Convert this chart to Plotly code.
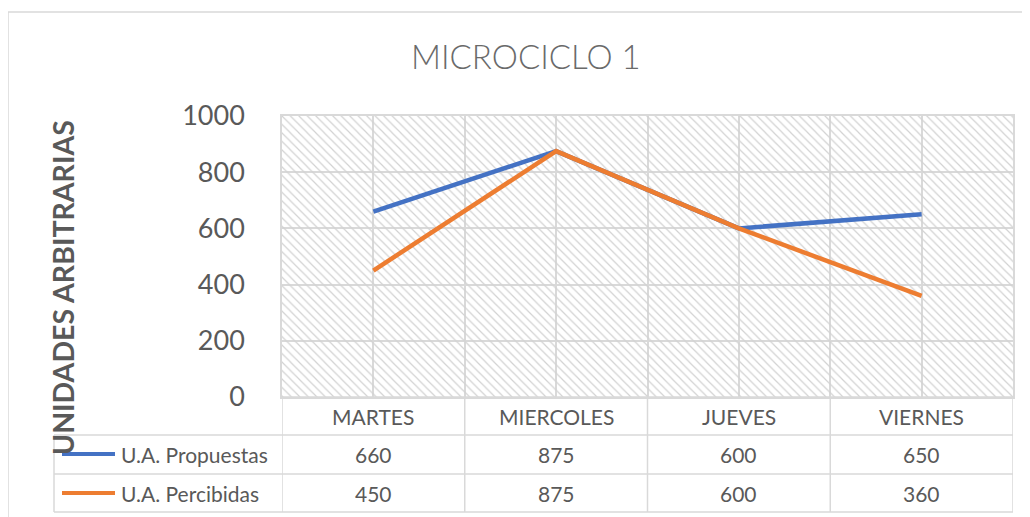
import plotly.graph_objects as go

# ---- data ----
DAYS = ["MARTES", "MIERCOLES", "JUEVES", "VIERNES"]
PROPUESTAS = [660, 875, 600, 650]
PERCIBIDAS = [450, 875, 600, 360]
SERIES_NAMES = ["U.A. Propuestas", "U.A. Percibidas"]
Y_TICKS = [0, 200, 400, 600, 800, 1000]
TITLE = "MICROCICLO 1"
Y_TITLE = "UNIDADES ARBITRARIAS"

COLORS = ["#4472C4", "#ED7D31"]
GRID = "#d9d9d9"
TXT = "#595959"
FONT = "Lato"

# page offset (browser body margin)
OX, OY = 8, 8
W, H = 1030 - OX, 517 - OY
# plot area in screen pixels
PL, PR, PT, PB = 282, 1013, 116, 397
ML, MR, MT, MB = PL - OX, 1030 - PR, PT - OY, 517 - PB
PW = W - ML - MR
PH = H - MT - MB


def px(x):
    return (x - PL) / PW


def py(y):
    return (PB - y) / PH


xs = list(range(len(DAYS)))
fig = go.Figure()

# hatched plot background
fig.add_trace(go.Bar(
    x=xs, y=[Y_TICKS[-1]] * len(DAYS), width=1,
    marker=dict(color="#d2d2d2", line=dict(width=0),
                pattern=dict(shape="\\", size=6, solidity=0.2, fillmode="replace")),
    hoverinfo="skip", showlegend=False,
))

for vals, name, col in zip([PROPUESTAS, PERCIBIDAS], SERIES_NAMES, COLORS):
    fig.add_trace(go.Scatter(
        x=xs, y=vals, mode="lines", name=name,
        line=dict(color=col, width=4.5), showlegend=False,
    ))

shapes = []
annotations = []


def ann(x, y, text, xref="paper", size=21, color=TXT, xanchor="center", **kw):
    d = dict(x=x, y=y, xref=xref, yref="paper", text=text, showarrow=False,
             xanchor=xanchor, yanchor="middle",
             font=dict(family=FONT, size=size, color=color, weight=kw.pop("weight", "normal")))
    d.update(kw)
    annotations.append(d)


# outer chart border
shapes.append(dict(type="rect", xref="paper", yref="paper",
                   x0=px(8), y0=py(540), x1=px(1050), y1=py(12),
                   line=dict(color=GRID, width=1.5), layer="below"))

# data table lines
row_lines = [397, 435, 474, 512]
for i, yl in enumerate(row_lines):
    x0 = px(282) if i == 0 else px(54)
    shapes.append(dict(type="line", xref="paper", yref="paper",
                       x0=x0, x1=px(1013), y0=py(yl), y1=py(yl),
                       line=dict(color=GRID, width=1.5)))
for i in range(len(DAYS) + 1):
    shapes.append(dict(type="line", xref="x", yref="paper",
                       x0=i - 0.5, x1=i - 0.5, y0=py(397), y1=py(512),
                       line=dict(color=GRID, width=1.5)))
shapes.append(dict(type="line", xref="paper", yref="paper",
                   x0=px(54), x1=px(54), y0=py(435), y1=py(512),
                   line=dict(color=GRID, width=1.5)))

# categories row
for i, d in enumerate(DAYS):
    ann(i, py(416), d, xref="x")

row_y = [454, 493]
for vals, name, col, ry in zip([PROPUESTAS, PERCIBIDAS], SERIES_NAMES, COLORS, row_y):
    shapes.append(dict(type="line", xref="paper", yref="paper",
                       x0=px(62), x1=px(115), y0=py(ry), y1=py(ry),
                       line=dict(color=col, width=4)))
    ann(px(119), py(ry), name, xanchor="left")
    for i, v in enumerate(vals):
        ann(i, py(ry), str(v), xref="x")

# title
ann(px(526), py(56), TITLE, size=33, color="#6a6a6a", weight=300)
# y title
ann(px(63), py(288), Y_TITLE, size=28.5, weight="bold", textangle=-90)

fig.update_layout(
    width=W, height=H,
    margin=dict(l=ML, r=MR, t=MT, b=MB),
    paper_bgcolor="white", plot_bgcolor="white",
    shapes=shapes, annotations=annotations,
    bargap=0,
    xaxis=dict(range=[-0.5, len(DAYS) - 0.5], tick0=-0.5, dtick=0.5,
               showticklabels=False, showgrid=True, gridcolor=GRID, gridwidth=1.5,
               zeroline=False, showline=True, mirror=True, linecolor=GRID, linewidth=1.5,
               fixedrange=True),
    yaxis=dict(range=[Y_TICKS[0], Y_TICKS[-1]], tickvals=Y_TICKS,
               showgrid=True, gridcolor=GRID, gridwidth=1.5, zeroline=False,
               showline=True, mirror=True, linecolor=GRID, linewidth=1.5,
               tickfont=dict(family=FONT, size=27, color=TXT),
               ticks="", ticklabelstandoff=30, fixedrange=True),
    showlegend=False,
)

fig.write_html("out.html")
